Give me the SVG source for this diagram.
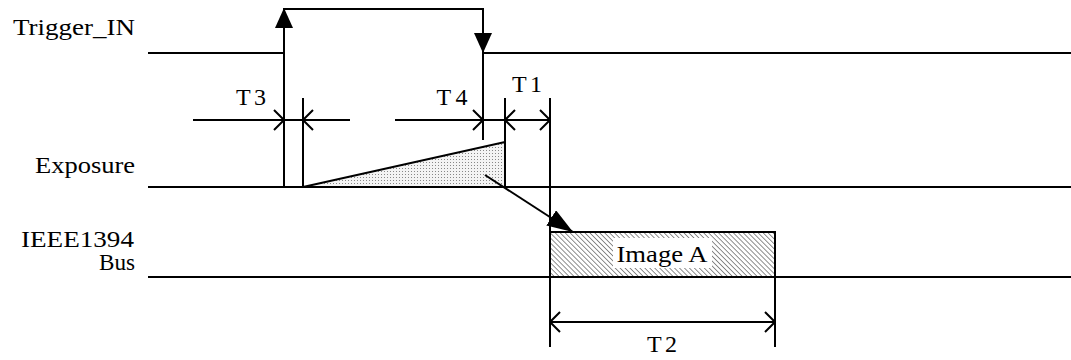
<svg xmlns="http://www.w3.org/2000/svg" width="1071" height="360" viewBox="0 0 1071 360">
<style>
text{font-family:"Liberation Serif","Times New Roman",serif;font-size:24px;fill:#000}
.ln{stroke:#000;stroke-width:2;fill:none}
.dim{stroke:#000;stroke-width:2;fill:none}
</style>
<defs>
<pattern id="hatch" width="3.5" height="3.5" patternUnits="userSpaceOnUse" patternTransform="rotate(-45)">
<rect width="3.5" height="3.5" fill="#fff"/>
<line x1="0" y1="0" x2="0" y2="3.5" stroke="#333" stroke-width="1.1"/>
</pattern>
<pattern id="dots" width="3" height="3" patternUnits="userSpaceOnUse">
<rect width="3" height="3" fill="#f4f4f4"/>
<rect x="0" y="0" width="1" height="1" fill="#888"/>
</pattern>
<marker id="fill" viewBox="0 0 20 20" refX="20" refY="10" markerWidth="20" markerHeight="20" markerUnits="userSpaceOnUse" orient="auto">
<path d="M0,1 L20,10 L0,19 Z" fill="#000"/>
</marker>
<marker id="big" viewBox="0 0 26 18" refX="26" refY="9" markerWidth="26" markerHeight="18" markerUnits="userSpaceOnUse" orient="auto">
<path d="M0,0 L26,9 L0,18 Z" fill="#000"/>
</marker>
<marker id="open" viewBox="0 0 12 22" refX="11" refY="11" markerWidth="12" markerHeight="22" markerUnits="userSpaceOnUse" orient="auto-start-reverse">
<path d="M1,1 L11,11 L1,21" fill="none" stroke="#000" stroke-width="2"/>
</marker>
</defs>

<g id="labels">
<text x="13" y="35" textLength="122" lengthAdjust="spacingAndGlyphs">Trigger_IN</text>
<text x="135" y="173" text-anchor="end" textLength="100" lengthAdjust="spacingAndGlyphs">Exposure</text>
<text x="134" y="247" text-anchor="end" textLength="113" lengthAdjust="spacingAndGlyphs">IEEE1394</text>
<text x="135" y="270" text-anchor="end" textLength="36" lengthAdjust="spacingAndGlyphs">Bus</text>
</g>

<g id="trigger">
<path class="ln" d="M148,53 H284"/>
<path class="ln" d="M483,53 H1071"/>
</g>

<g id="exposure">
<path d="M303,187 L505,142 L505,187 Z" fill="url(#dots)" stroke="none"/>
<path class="ln" d="M303,187 L505,142 L505,187"/>
<path class="ln" d="M148,187 H1071"/>
</g>

<g id="bus">
<rect x="550" y="232" width="225" height="45" fill="url(#hatch)" stroke="#000" stroke-width="2"/>
<rect x="613" y="238" width="99" height="30" fill="#fff"/>
<text x="662" y="262" text-anchor="middle" font-size="25" textLength="91" lengthAdjust="spacingAndGlyphs">Image A</text>
<path class="ln" d="M148,277 H1071"/>
</g>

<g id="connectors">
<path class="ln" d="M284,187 V9 H483 V140"/>
<path class="ln" d="M284,60 V8" marker-end="url(#fill)"/>
<path class="ln" d="M483,20 V53" marker-end="url(#fill)"/>
<path class="ln" d="M485,175 L573,232" marker-end="url(#big)"/>
<path class="ln" d="M303,98 V187"/>
<path class="ln" d="M505,98 V187"/>
<path class="ln" d="M550,98 V347"/>
<path class="ln" d="M775,277 V347"/>
</g>

<g id="dimensions">
<path class="dim" d="M193,120 H284" marker-end="url(#open)"/>
<path class="dim" d="M350,120 H303" marker-end="url(#open)"/>
<path class="dim" d="M284,120 H303"/>
<path class="dim" d="M395,120 H483" marker-end="url(#open)"/>
<path class="dim" d="M483,120 H505"/>
<path class="dim" d="M505,120 H550" marker-start="url(#open)" marker-end="url(#open)"/>
<path class="dim" d="M550,322 H775" marker-start="url(#open)" marker-end="url(#open)"/>
<text x="251" y="105" text-anchor="middle" textLength="30" lengthAdjust="spacing">T3</text>
<text x="452" y="105" text-anchor="middle" textLength="31" lengthAdjust="spacing">T4</text>
<text x="527" y="92" text-anchor="middle" textLength="30" lengthAdjust="spacing">T1</text>
<text x="662" y="352" text-anchor="middle" textLength="30" lengthAdjust="spacing">T2</text>
</g>
</svg>
